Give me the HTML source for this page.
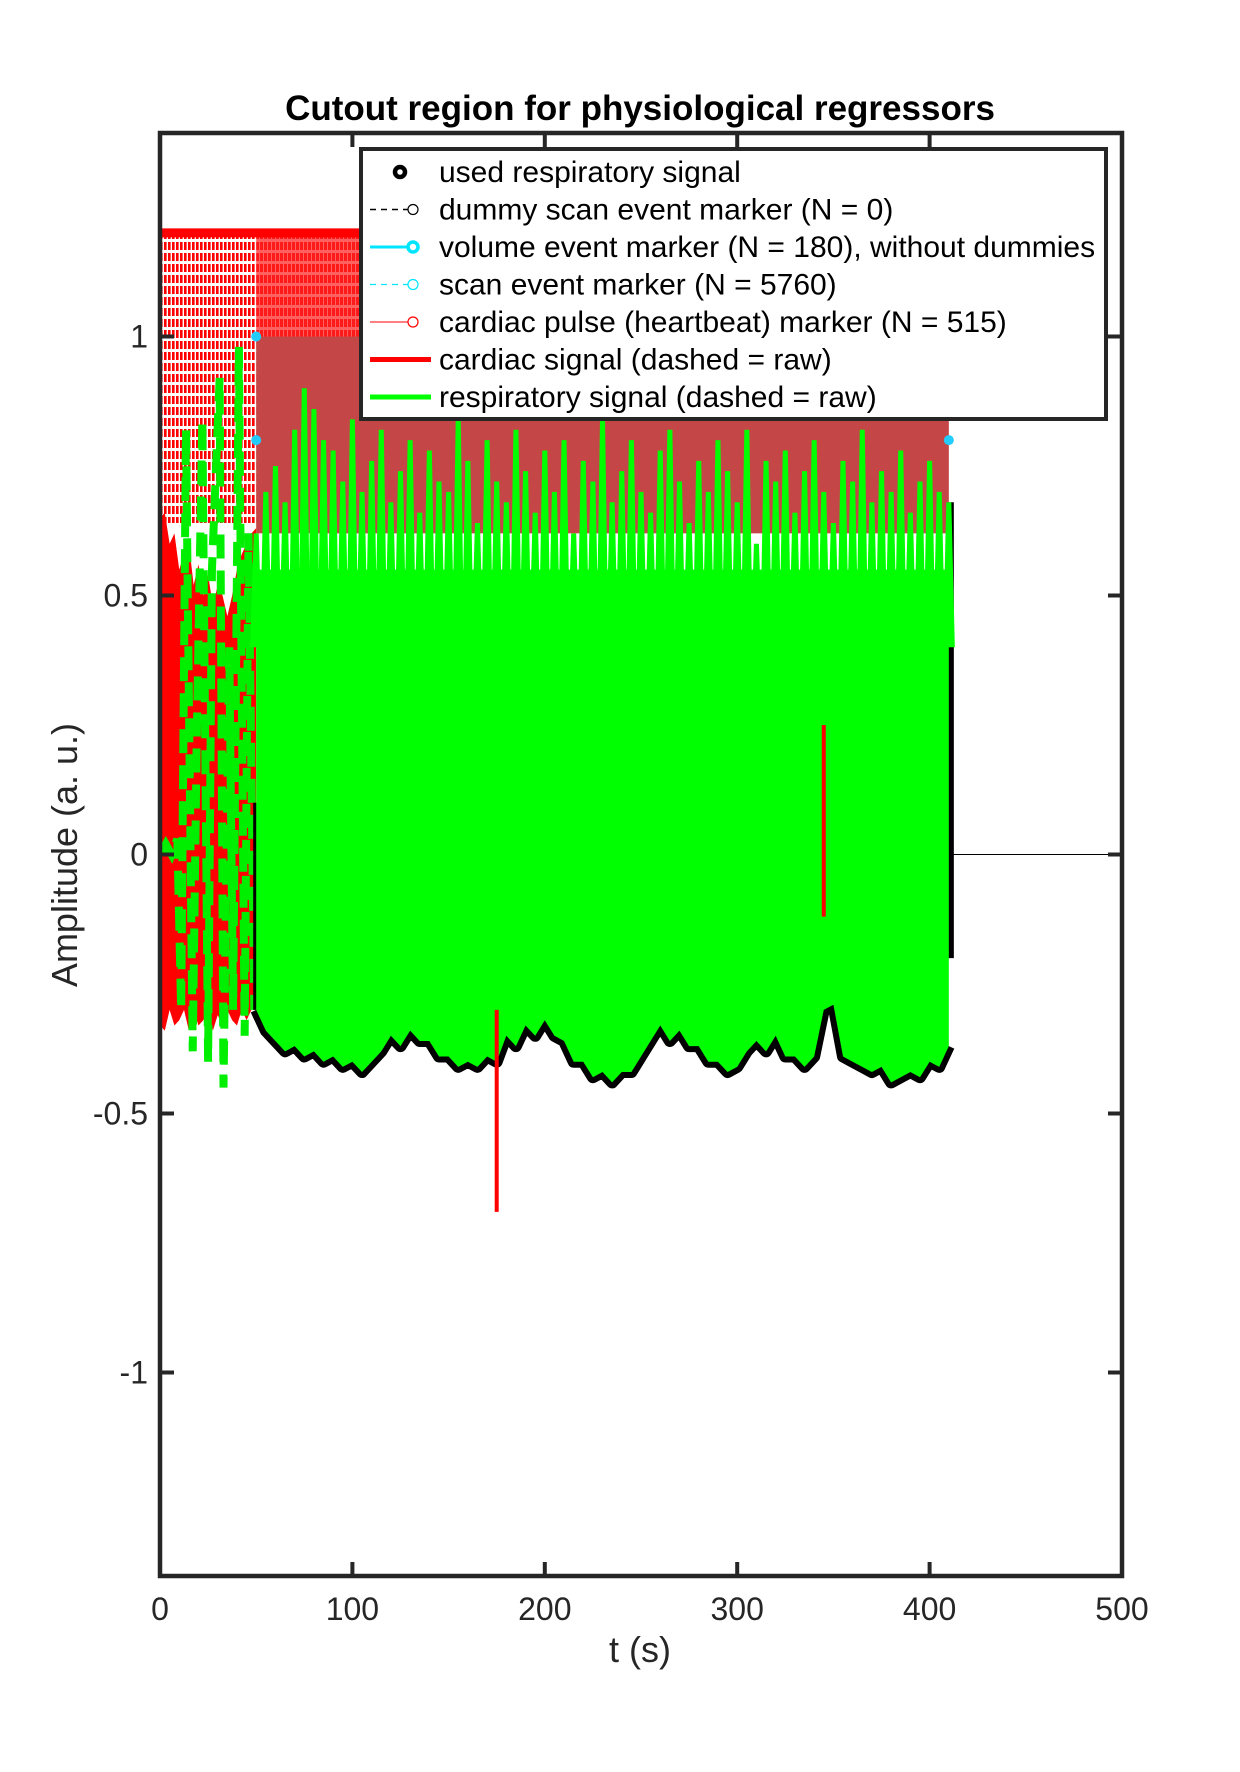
<!DOCTYPE html>
<html><head><meta charset="utf-8"><style>
html,body{margin:0;padding:0;background:#fff;}
svg{display:block;font-family:"Liberation Sans",Arial,sans-serif;}
</style></head><body>
<svg id="chart" width="1240" height="1772" viewBox="0 0 1240 1772" xmlns="http://www.w3.org/2000/svg">
<defs>
<pattern id="stemPat" width="4" height="11" patternUnits="userSpaceOnUse">
<rect x="0" y="0" width="2.6" height="8" fill="#ff0000"/>
</pattern>
<pattern id="stemPat2" width="4" height="11" patternUnits="userSpaceOnUse">
<rect x="0" y="0" width="4" height="11" fill="#ff6060"/>
<rect x="0" y="0" width="3" height="8" fill="#ff1a1a"/>
</pattern>
<clipPath id="plotClip"><rect x="160" y="133" width="962" height="1443"/></clipPath>
</defs>
<rect width="1240" height="1772" fill="#fff"/>
<g id="plot" clip-path="url(#plotClip)"></g>
<g id="axes"></g>
<text x="640" y="120" text-anchor="middle" font-size="35" font-weight="bold" fill="#000">Cutout region for physiological regressors</text>
<text x="640" y="1662" text-anchor="middle" font-size="36" fill="#262626">t (s)</text>
<text transform="translate(77,855) rotate(-90)" text-anchor="middle" font-size="36" fill="#262626">Amplitude (a. u.)</text>
<g id="legend">
<rect x="361" y="149" width="745" height="270" fill="#fff" stroke="#262626" stroke-width="4"/>
</g>
</svg>
<script>
const xTicks=[0,100,200,300,400,500];
const yTicks=[-1,-0.5,0,0.5,1];
const yTickLabels=["-1","-0.5","0","0.5","1"];
const troughT=[50,55,60,65,70,75,80,85,90,95,100,105,110,115,120,125,130,135,140,145,150,155,160,165,170,175,180,185,190,195,200,205,210,215,220,225,230,235,240,245,250,255,260,265,270,275,280,285,290,295,300,305,310,315,320,325,330,335,340,345,350,355,360,365,370,375,380,385,390,395,400,405,410];
const troughV=[-0.30,-0.34,-0.36,-0.38,-0.37,-0.39,-0.38,-0.40,-0.39,-0.41,-0.40,-0.42,-0.40,-0.38,-0.35,-0.37,-0.34,-0.36,-0.36,-0.39,-0.39,-0.41,-0.40,-0.41,-0.39,-0.40,-0.35,-0.37,-0.33,-0.35,-0.32,-0.35,-0.36,-0.40,-0.40,-0.43,-0.42,-0.44,-0.42,-0.42,-0.39,-0.36,-0.33,-0.36,-0.34,-0.37,-0.37,-0.40,-0.40,-0.42,-0.41,-0.38,-0.36,-0.38,-0.35,-0.39,-0.39,-0.41,-0.39,-0.30,-0.29,-0.39,-0.40,-0.41,-0.42,-0.41,-0.44,-0.43,-0.42,-0.43,-0.40,-0.41,-0.37];
const peakStart=50, peakStep=5;
const respPeaks=[0.62,0.70,0.75,0.68,0.82,0.90,0.86,0.80,0.78,0.72,
0.84,0.70,0.76,0.82,0.68,0.74,0.80,0.66,0.78,0.72,
0.70,0.84,0.76,0.64,0.80,0.72,0.68,0.82,0.74,0.66,
0.78,0.70,0.80,0.62,0.76,0.72,0.84,0.68,0.74,0.80,
0.70,0.66,0.78,0.82,0.72,0.64,0.76,0.70,0.80,0.74,
0.68,0.82,0.60,0.76,0.72,0.78,0.66,0.74,0.80,0.70,
0.64,0.76,0.72,0.82,0.68,0.74,0.70,0.78,0.66,0.72,
0.76,0.70,0.68];
const earlyT=[0,2.5,5,7.5,10,12.5,15,17.5,20,22.5,25,27.5,30,32.5,35,37.5,40,42.5,45,47.5,50];
const earlyTop=[0.65,0.66,0.60,0.62,0.55,0.58,0.60,0.52,0.56,0.50,0.54,0.48,0.52,0.50,0.46,0.50,0.55,0.58,0.60,0.62,0.63];
const earlyBot=[-0.33,-0.34,-0.30,-0.33,-0.32,-0.30,-0.34,-0.30,-0.33,-0.32,-0.30,-0.34,-0.31,-0.33,-0.30,-0.32,-0.33,-0.30,-0.32,-0.30,-0.28];
const rawT=[0,3,6,9,11,13.5,17,19,22,25,27,31,33,36,38,41,44,46,49];
const rawV=[0,0.02,0.0,0.03,-0.30,0.82,-0.38,0.20,0.84,-0.40,0.55,0.92,-0.45,0.40,-0.30,0.98,-0.35,0.62,-0.30];
const redSpikeT=[175,345];
const redSpikeTop=[-0.30,0.25];
const redSpikeBot=[-0.69,-0.12];
const cyanT=[50,50,410];
const cyanV=[1.0,0.8,0.8];

const NS="http://www.w3.org/2000/svg";
const xs=t=>160+t*1.924;
const ys=v=>854.5-v*518;
function mk(tag,attrs,parent){const e=document.createElementNS(NS,tag);for(const k in attrs)e.setAttribute(k,attrs[k]);parent.appendChild(e);return e;}
const plot=document.getElementById('plot');
const axes=document.getElementById('axes');

let e=mk('rect',{x:xs(0)+2,y:ys(1.2),width:xs(50)-xs(0)-2,height:ys(0.64)-ys(1.2),fill:'url(#stemPat)'},plot);


e=mk('rect',{x:xs(50),y:ys(1.2),width:xs(410)-xs(50),height:ys(1.0)-ys(1.2),fill:'url(#stemPat2)'},plot);


e=mk('rect',{x:xs(50),y:ys(1.0),width:xs(410)-xs(50),height:ys(0.62)-ys(1.0),fill:'#c44646'},plot);


e=mk('line',{x1:xs(0),x2:xs(410),y1:ys(1.2),y2:ys(1.2),stroke:'#ff0000','stroke-width':9},plot);



let pts=earlyT.map((t,i)=>xs(t)+','+ys(earlyTop[i]));
pts=pts.concat(earlyT.slice().reverse().map((t,j)=>xs(t)+','+ys(earlyBot[earlyT.length-1-j])));
e=mk('polygon',{points:pts.join(' '),fill:'#ff0000'},plot);



e=mk('polyline',{points:rawT.map((t,i)=>xs(t)+','+ys(rawV[i])).join(' '),fill:'none',stroke:'#00ee00','stroke-width':8,'stroke-dasharray':'24 12'},plot);



e=mk('polyline',{points:troughT.map((t,i)=>xs(t)+','+ys(troughV[i])).join(' '),fill:'none',stroke:'#000','stroke-width':12,'stroke-linejoin':'round'},plot);


e=mk('line',{x1:xs(50),x2:xs(50),y1:ys(0.1),y2:ys(troughV[0]),stroke:'#000','stroke-width':6},plot);


e=mk('line',{x1:xs(410)+2,x2:xs(410)+2,y1:ys(0.68),y2:ys(-0.2),stroke:'#000','stroke-width':6},plot);


e=mk('line',{x1:xs(410),x2:xs(500),y1:ys(0),y2:ys(0),stroke:'#000','stroke-width':1},plot);



pts=troughT.map((t,i)=>xs(t)+','+ys(troughV[i]));
pts.push(xs(410)+','+ys(0.55));pts.push(xs(50)+','+ys(0.55));
e=mk('polygon',{points:pts.join(' '),fill:'#00ff00'},plot);


respPeaks.forEach((p,i)=>{
  const t=peakStart+i*peakStep;
  const s=mk('polygon',{points:[xs(t)-6+','+ys(0.4),xs(t)-2.5+','+ys(p),xs(t)+2.5+','+ys(p),xs(t)+6+','+ys(0.4)].join(' '),fill:'#00ff00'},plot);
  
  
});
redSpikeT.forEach((t,i)=>{
  const s=mk('line',{x1:xs(t),x2:xs(t),y1:ys(redSpikeTop[i]),y2:ys(redSpikeBot[i]),stroke:'#ff0000','stroke-width':4},plot);
  
  
});
cyanT.forEach((t,i)=>{
  const c=mk('circle',{cx:xs(t),cy:ys(cyanV[i]),r:5,fill:'#22ccff'},plot);
  
  
});

e=mk('rect',{x:160,y:133,width:962,height:1443,fill:'none',stroke:'#262626','stroke-width':4.5},axes);


xTicks.forEach(t=>{
  const x=xs(t);
  let l=mk('line',{x1:x,x2:x,y1:1576,y2:1562,stroke:'#262626','stroke-width':4},axes);
  
  
  l=mk('line',{x1:x,x2:x,y1:133,y2:147,stroke:'#262626','stroke-width':4},axes);
  
  
  const tx=mk('text',{x:x,y:1620,'text-anchor':'middle','font-size':32,fill:'#262626'},axes);
  tx.textContent=String(t);
  
  
});
yTicks.forEach((v,i)=>{
  const y=ys(v);
  let l=mk('line',{x1:160,x2:174,y1:y,y2:y,stroke:'#262626','stroke-width':4},axes);
  
  
  l=mk('line',{x1:1122,x2:1108,y1:y,y2:y,stroke:'#262626','stroke-width':4},axes);
  
  
  const tx=mk('text',{x:148,y:y+11,'text-anchor':'end','font-size':32,fill:'#262626'},axes);
  tx.textContent=yTickLabels[i];
  
  
});

const legend=document.getElementById('legend');
const legLabels=["used respiratory signal","dummy scan event marker (N = 0)","volume event marker (N = 180), without dummies","scan event marker (N = 5760)","cardiac pulse (heartbeat) marker (N = 515)","cardiac signal (dashed = raw)","respiratory signal (dashed = raw)"];
legLabels.forEach((lab,i)=>{
  const y=172+i*37.5;
  const g=mk('g',{},legend);
  
  
  if(i===0){mk('circle',{cx:400,cy:y,r:5,fill:'none',stroke:'#000','stroke-width':4.5},g);}
  if(i===1){mk('line',{x1:370,x2:408,y1:y,y2:y,stroke:'#000','stroke-width':1.5,'stroke-dasharray':'6 5'},g);mk('circle',{cx:413,cy:y,r:5,fill:'none',stroke:'#000','stroke-width':1.2},g);}
  if(i===2){mk('line',{x1:370,x2:408,y1:y,y2:y,stroke:'#00e5ff','stroke-width':3},g);mk('circle',{cx:413,cy:y,r:5,fill:'none',stroke:'#00e5ff','stroke-width':3.5},g);}
  if(i===3){mk('line',{x1:370,x2:408,y1:y,y2:y,stroke:'#00e5ff','stroke-width':1.2,'stroke-dasharray':'6 5'},g);mk('circle',{cx:413,cy:y,r:5,fill:'none',stroke:'#00e5ff','stroke-width':1.2},g);}
  if(i===4){mk('line',{x1:370,x2:408,y1:y,y2:y,stroke:'#ff0000','stroke-width':1},g);mk('circle',{cx:413,cy:y,r:5,fill:'none',stroke:'#ff0000','stroke-width':1.2},g);}
  if(i===5){mk('line',{x1:370,x2:431,y1:y,y2:y,stroke:'#ff0000','stroke-width':5},g);}
  if(i===6){mk('line',{x1:370,x2:431,y1:y,y2:y,stroke:'#00ff00','stroke-width':5},g);}
  const tx=mk('text',{x:439,y:y+10,'font-size':30,fill:'#000'},g);
  tx.textContent=lab;
  
  
});
</script>
</body></html>
